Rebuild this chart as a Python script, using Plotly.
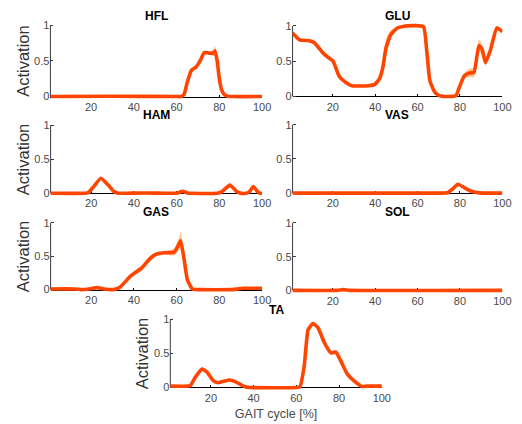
import plotly.graph_objects as go

W, H = 522, 424

# ---------------- data (gait cycle %, activation) ----------------
HFL_x = [1, 30, 60, 62, 63.5, 65, 67, 69, 71, 73, 75, 77, 78, 79, 80, 81, 82, 84, 86, 100]
HFL_y = [0, 0.005, 0, 0, 0.03, 0.2, 0.37, 0.41, 0.5, 0.62, 0.61, 0.61, 0.64, 0.5, 0.25, 0.1, 0.04, 0.005, 0, 0]
HFL_s = [0.01, 0.01, 0.01, 0.01, 0.02, 0.03, 0.03, 0.02, 0.02, 0.02, 0.02, 0.04, 0.07, 0.05, 0.03, 0.02, 0.01,
         0.01, 0.01, 0.01]

GLU_x = [1, 4.4, 9, 11.3, 15.2, 17.5, 20.1, 22.9, 26, 29, 36.7, 39.8, 42, 43.6, 45.1, 47.4, 50.5, 55.1,
         62.7, 64.3, 65.8, 68.1, 70, 72, 76, 78.1, 79.7, 82, 84.3, 86.6, 88.9, 90.4, 92, 94.3, 97.4, 100]
GLU_y = [0.9, 0.8, 0.79, 0.76, 0.62, 0.56, 0.5, 0.29, 0.2, 0.15, 0.15, 0.17, 0.25, 0.41, 0.69, 0.88, 0.97, 1.0,
         0.99, 0.65, 0.22, 0.06, 0.015, 0.0, 0.0, 0.01, 0.13, 0.29, 0.33, 0.34, 0.72, 0.67, 0.48, 0.65, 0.97, 0.92]
GLU_s = [0.02, 0.02, 0.02, 0.03, 0.03, 0.03, 0.02, 0.02, 0.02, 0.01, 0.01, 0.02, 0.05, 0.12, 0.12, 0.06, 0.02, 0.01,
         0.02, 0.08, 0.06, 0.02, 0.01, 0.01, 0.01, 0.01, 0.03, 0.04, 0.06, 0.07, 0.09, 0.07, 0.05, 0.04, 0.03, 0.02]

HAM_x = [1, 17, 18.4, 21, 24.5, 28, 30.5, 32.1, 34, 45, 58, 60.5, 62.7, 65, 67, 79, 81, 84.9, 88, 89.5, 92.5,
         94, 95.9, 98, 99, 100]
HAM_y = [0, 0, 0.005, 0.09, 0.22, 0.12, 0.03, 0.005, 0, 0.005, 0, 0.005, 0.03, 0.005, 0, 0, 0.02, 0.12, 0.03,
         0.005, 0, 0.02, 0.1, 0.02, 0, 0]
HAM_s = [0.01] * len(HAM_x)

VAS_x = [1, 72, 74.1, 76.5, 79, 82, 85, 88.8, 91, 100]
VAS_y = [0, 0, 0.005, 0.06, 0.13, 0.08, 0.03, 0.003, 0, 0]
VAS_s = [0.01] * len(VAS_x)

GAS_x = [1, 12, 15.3, 19, 22.9, 26, 29.8, 31.5, 33.6, 39, 43.6, 47.4, 50.5, 54.3, 58.9, 61.2, 61.9, 63.5, 65,
         67.3, 70, 86, 88.5, 91, 100]
GAS_y = [0.01, 0.01, 0.0, 0.01, 0.03, 0.01, 0.0, 0.01, 0.04, 0.22, 0.32, 0.46, 0.53, 0.55, 0.56, 0.69, 0.73, 0.45,
         0.15, 0.01, 0.0, 0.0, 0.01, 0.02, 0.02]
GAS_s = [0.01, 0.01, 0.01, 0.01, 0.01, 0.01, 0.01, 0.01, 0.02, 0.03, 0.04, 0.04, 0.03, 0.03, 0.05, 0.1, 0.13,
         0.08, 0.04, 0.01, 0.01, 0.01, 0.01, 0.01, 0.01]

SOL_x = [1, 22, 25, 28, 100]
SOL_y = [0, 0, 0.01, 0, 0]
SOL_s = [0.01] * len(SOL_x)

TA_x = [1, 9, 10.4, 12.7, 15.8, 18.1, 21.1, 23.4, 28.8, 31.8, 35.6, 38, 60, 61.7, 63.7, 65.5, 67.8, 70.1, 73.1,
        76.2, 78.5, 80.8, 83.8, 86.9, 90.7, 93, 100]
TA_y = [0.02, 0.02, 0.03, 0.15, 0.27, 0.23, 0.1, 0.07, 0.11, 0.08, 0.015, 0.0, 0.0, 0.01, 0.32, 0.85, 0.94, 0.88,
        0.66, 0.51, 0.52, 0.39, 0.2, 0.1, 0.015, 0.02, 0.02]
TA_s = [0.01] * 13 + [0.01, 0.03, 0.04, 0.03, 0.03, 0.03, 0.03, 0.03, 0.03, 0.02, 0.02, 0.01, 0.01, 0.01]

MUSCLES = ["HFL", "GLU", "HAM", "VAS", "GAS", "SOL", "TA"]
DATA = {
    "HFL": (HFL_x, HFL_y, HFL_s), "GLU": (GLU_x, GLU_y, GLU_s),
    "HAM": (HAM_x, HAM_y, HAM_s), "VAS": (VAS_x, VAS_y, VAS_s),
    "GAS": (GAS_x, GAS_y, GAS_s), "SOL": (SOL_x, SOL_y, SOL_s),
    "TA": (TA_x, TA_y, TA_s),
}
X_TICKS = [20, 40, 60, 80, 100]
Y_TICKS = [0, 0.5, 1]
Y_TICK_TEXT = ["0", "0.5", "1"]

# ---------------- layout (pixel geometry) ----------------
# (left px, right px, zero px, one px, title px y, ylabel)
GEOM = {
    "HFL": (51.3, 266.7, 96.0, 24.5, 15.5, True),
    "GLU": (297.7, 511.2, 95.8, 25.0, 15.0, False),
    "HAM": (51.5, 266.7, 193.2, 124.7, 114.3, True),
    "VAS": (297.7, 511.2, 193.0, 124.3, 114.3, False),
    "GAS": (51.5, 266.7, 290.0, 222.7, 212.3, True),
    "SOL": (297.7, 511.2, 290.7, 223.0, 212.3, False),
    "TA": (173.3, 388.5, 388.3, 320.0, 310.0, True),
}
YMIN, YMAX = -0.07, 1.07
LINE_COLOR = "#FF4500"
BAND_COLOR = "rgba(255,160,80,0.6)"
AX_COLOR = "#3a3a3a"
FONT_FAMILY = "Liberation Sans, Arial, sans-serif"
TICK_FONT = dict(family=FONT_FAMILY, size=11, color="#4a4a4a")
SMOOTH = 0.45

fig = go.Figure()
layout = dict(
    width=W, height=H, margin=dict(l=0, r=0, t=0, b=0),
    paper_bgcolor="white", plot_bgcolor="rgba(0,0,0,0)", showlegend=False,
    font=dict(family=FONT_FAMILY),
)
shapes, annotations = [], []

def py(p):
    return 1 - p / H

for i, m in enumerate(MUSCLES):
    n = i + 1
    xs, ys, ss = DATA[m]
    left, right, zero, one, ttl, ylab = GEOM[m]
    unit = (zero - one)  # px per activation unit
    dom_bot = py(zero - YMIN * unit)
    dom_top = py(zero - YMAX * unit)
    xa = "x" if n == 1 else f"x{n}"
    ya = "y" if n == 1 else f"y{n}"
    xk = "xaxis" if n == 1 else f"xaxis{n}"
    yk = "yaxis" if n == 1 else f"yaxis{n}"

    upper = [y + s for y, s in zip(ys, ss)]
    lower = [max(y - s, -0.01) for y, s in zip(ys, ss)]
    fig.add_trace(go.Scatter(x=xs + xs[::-1], y=upper + lower[::-1], mode="lines",
                             line=dict(width=0, shape="spline", smoothing=SMOOTH), fill="toself",
                             fillcolor=BAND_COLOR, hoverinfo="skip", xaxis=xa, yaxis=ya))
    fig.add_trace(go.Scatter(x=xs, y=ys, mode="lines",
                             line=dict(color=LINE_COLOR, width=3.6, shape="spline", smoothing=SMOOTH),
                             xaxis=xa, yaxis=ya))

    layout[xk] = dict(domain=[left / W, right / W], range=[1, 100], anchor="free",
                      position=py(zero), showline=True, linecolor="black", linewidth=1,
                      ticks="inside", ticklen=2, tickcolor="black", tickvals=X_TICKS,
                      tickfont=TICK_FONT, showgrid=False, zeroline=False,
                      layer="below traces", fixedrange=True)
    if m == "TA":
        layout[xk]["title"] = dict(text="GAIT cycle [%]", standoff=6,
                                   font=dict(family=FONT_FAMILY, size=12.5, color="#4a4a4a"))
    layout[yk] = dict(domain=[dom_bot, dom_top], range=[YMIN, YMAX], anchor=xa,
                      showline=False, ticks="inside", ticklen=3, tickcolor=AX_COLOR,
                      tickvals=Y_TICKS, ticktext=Y_TICK_TEXT, tickfont=TICK_FONT,
                      showgrid=False, zeroline=False, layer="below traces", fixedrange=True)
    shapes.append(dict(type="line", xref="paper", yref="paper", x0=left / W, x1=left / W,
                       y0=py(zero), y1=py(one), line=dict(color=AX_COLOR, width=1), layer="below"))
    annotations.append(dict(text=f"<b>{m}</b>", xref="paper", yref="paper",
                            x=(left + right) / 2 / W, y=py(ttl), xanchor="center", yanchor="middle",
                            showarrow=False, font=dict(size=12, color="black", family=FONT_FAMILY)))
    if ylab:
        annotations.append(dict(text="Activation", xref="paper", yref="paper",
                                x=(left - 28) / W, y=py((zero + one) / 2), xanchor="center",
                                yanchor="middle", textangle=-90, showarrow=False,
                                font=dict(size=16.5, color="#333333", family=FONT_FAMILY)))

layout["shapes"] = shapes
layout["annotations"] = annotations
fig.update_layout(**layout)
fig.write_html("out.html", config={"displayModeBar": False})

# remove default page margin so the figure sits at the window origin
with open("out.html", "r", encoding="utf-8") as f:
    html = f.read()
html = html.replace("<head>", "<head><style>html,body{margin:0;padding:0;overflow:hidden;}</style>", 1)
with open("out.html", "w", encoding="utf-8") as f:
    f.write(html)
